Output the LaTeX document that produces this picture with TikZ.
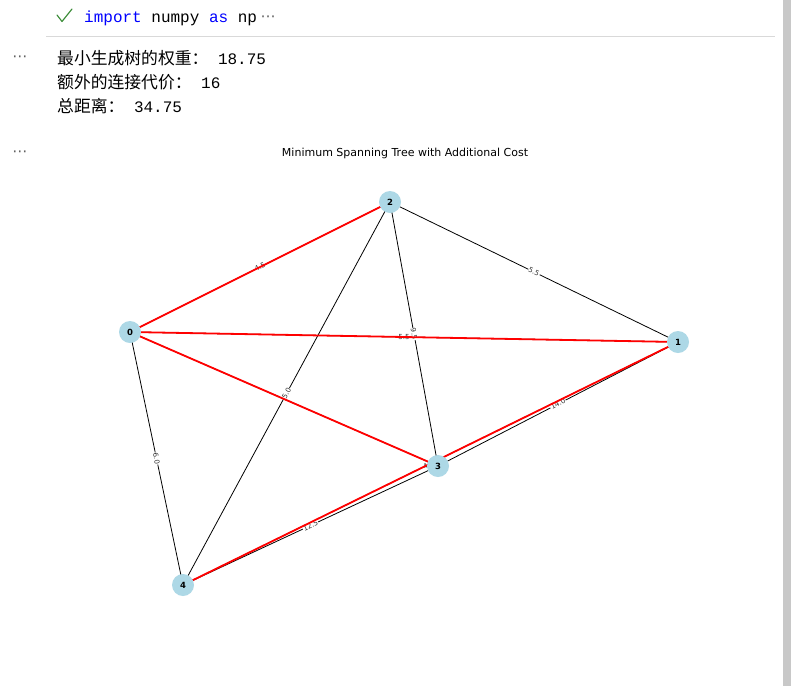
\documentclass[tikz,border=0pt]{standalone}
\usepackage{fontspec}
\setmainfont{DejaVu Sans}
\newfontfamily\cjk{Noto Sans CJK SC}
\newfontfamily\codefont{Liberation Mono}
\newfontfamily\dvs{DejaVu Sans}
\definecolor{nodeblue}{HTML}{ADD8E6}
\definecolor{kwblue}{HTML}{0000FF}
\definecolor{okgreen}{HTML}{388A34}
\definecolor{dotgray}{HTML}{616161}
\definecolor{rulegray}{HTML}{D9D9D9}
\definecolor{scrollgray}{HTML}{C8C8C8}
\pgfdeclarelayer{back}
\pgfdeclarelayer{bg}
\pgfsetlayers{back,bg,main}
\tikzset{
  vertex/.style={circle, fill=nodeblue, minimum size=22pt, inner sep=0pt,
    font=\dvs\fontsize{8.5}{9}\selectfont\bfseries},
  blackedge/.style={draw=black, line width=0.8pt},
  rededge/.style={draw=red, line width=1.8pt},
  elabel/.style={fill=white, inner sep=0.6pt, text=black!80,
    font=\dvs\fontsize{7}{7}\selectfont, sloped, pos=0.5},
  outtext/.style={anchor=base west, inner sep=0pt, font=\fontsize{16}{19}\selectfont},
  dots/.style={text=dotgray, inner sep=0pt, font=\dvs\fontsize{15}{15}\selectfont}
}
\begin{document}
\begin{tikzpicture}[x=1pt,y=-1pt]
\begin{pgfonlayer}{back}
\path[use as bounding box, fill=white] (0,0) rectangle (791,686);
\end{pgfonlayer}
% scrollbar and header rule
\fill[scrollgray] (783,0) rectangle (791,686);
\draw[rulegray, line width=0.8pt] (46,36) -- (775,36);
% check mark
\draw[okgreen, line width=1.1pt, line cap=round, line join=round] (57,15) -- (62,21.5) -- (72,9);
% code line
\node[outtext] (code) at (84,22) {\codefont\textcolor{kwblue}{import} numpy \textcolor{kwblue}{as} np};
\node[dots] (codedots) at (268,18.5) {⋯};
% output
\node[dots] (outdots1) at (20,58.5) {⋯};
\node[outtext] (l1) at (57,64) {{\cjk\fontsize{16.8}{19}\selectfont 最小生成树的权重：}{\codefont\ 18.75}};
\node[outtext] (l2) at (57,88) {{\cjk\fontsize{16.8}{19}\selectfont 额外的连接代价：}{\codefont\ 16}};
\node[outtext] (l3) at (57,112) {{\cjk\fontsize{16.8}{19}\selectfont 总距离：}{\codefont\ 34.75}};
\node[dots] (outdots2) at (20,153.5) {⋯};
% title
\node[inner sep=0pt, font=\dvs\fontsize{11}{12}\selectfont] (title) at (405,153) {Minimum Spanning Tree with Additional Cost};
% nodes
\node[vertex] (n0) at (130,332) {0};
\node[vertex] (n1) at (678,342) {1};
\node[vertex] (n2) at (390,202) {2};
\node[vertex] (n3) at (438,466) {3};
\node[vertex] (n4) at (183,585) {4};
\begin{pgfonlayer}{bg}
  % all edges in black
  \foreach \a/\b in {0/1,0/2,0/3,0/4,1/2,1/3,1/4,2/3,2/4,3/4}
    \draw[blackedge] (n\a.center) -- (n\b.center);
  % edge labels
  \path (n0.center) -- node[elabel] (e02) {4.5} (n2.center);
  \path (n0.center) -- node[elabel] (e01) {5.5} (n1.center);
  \path (n2.center) -- node[elabel] (e23) {9.5} (n3.center);
  \path (n2.center) -- node[elabel] (e21) {5.5} (n1.center);
  \path (n2.center) -- node[elabel] (e24) {5.0} (n4.center);
  \path (n0.center) -- node[elabel] (e04) {6.0} (n4.center);
  \path (n3.center) -- node[elabel] (e31) {14.0} (n1.center);
  \path (n3.center) -- node[elabel] (e34) {12.5} (n4.center);
  \path (n4.center) -- node[elabel] (e41) {4.25} (n1.center);
  % MST edges in red on top
  \foreach \a/\b in {0/2,0/1,0/3,4/1}
    \draw[rededge] (n\a.center) -- (n\b.center);
\end{pgfonlayer}
\end{tikzpicture}
\end{document}
